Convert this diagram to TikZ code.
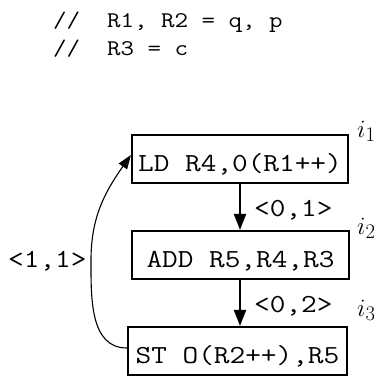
\documentclass[tikz,border=0pt]{standalone}
\usepackage{fontspec}
\setmonofont[FakeStretch=1.17]{Latin Modern Mono}
\usetikzlibrary{arrows.meta}
\begin{document}
\begin{tikzpicture}[x=1pt,y=-1pt,
  box/.style={draw, line width=2.2pt, inner xsep=0pt, inner ysep=0pt,
    text height=36pt, text depth=12pt, font=\fontsize{26}{32}\selectfont\ttfamily},
  flow/.style={-{Triangle[length=16pt,width=12pt]}, line width=2pt},
  back/.style={-{Triangle[length=14pt,width=10pt]}, line width=1.1pt},
  lab/.style={font=\fontsize{26}{32}\selectfont\ttfamily, inner sep=0pt, anchor=base west},
  head/.style={font=\fontsize{22.4}{28}\selectfont\ttfamily, inner sep=0pt, anchor=base west},
  idx/.style={font=\fontsize{24.88}{28}\selectfont, inner sep=0pt, anchor=base west}]
\useasboundingbox (0,0) rectangle (374,376);
\node[head] (h1) at (53,27) {//~~R1, R2 = q, p};
\node[head] (h2) at (53,55) {//~~R3 = c};
\node[box, minimum width=216pt] (b1) at (240,159) {LD R4,0(R1++)};
\node[box, minimum width=217pt] (b2) at (240.5,255) {ADD R5,R4,R3};
\node[box, minimum width=219pt] (b3) at (237.5,351) {ST O(R2++),R5};
\draw[flow] (b1.south) -- (b1.south |- b2.north);
\draw[flow] (b2.south -| b1.south) -- (b1.south |- b3.north);
\node[lab] (l1) at (254,216) {<0,1>};
\node[lab] (l2) at (254,312) {<0,2>};
\coordinate (m) at (91,260);
\draw[back] ([yshift=3pt]b3.west) to[out=180,in=-90] (m) to[out=90,in=235] ([yshift=4pt]b1.west);
\node[lab] (l3) at (8,267) {<1,1>};
\node[idx] (i1) at (357,137) {$i_1$};
\node[idx] (i2) at (357,234) {$i_2$};
\node[idx] (i3) at (357,316) {$i_3$};
\end{tikzpicture}
\end{document}
